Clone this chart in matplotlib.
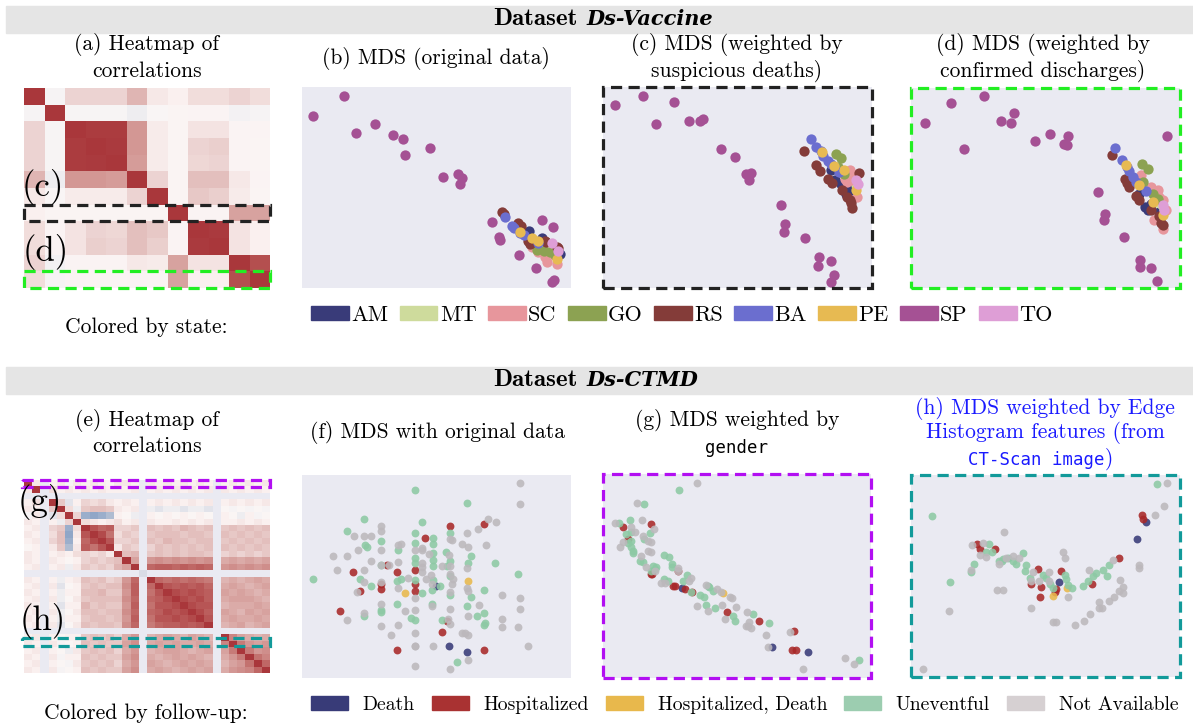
import numpy as np
import matplotlib
matplotlib.use("Agg")
import matplotlib.pyplot as plt
import seaborn as sns
from matplotlib.patches import Patch, Rectangle

W, H = 1193, 727
BG = "#eaeaf2"
SERIF = "cmr10"
MONO = "DejaVu Sans Mono"

# ---------------- data: Ds-Vaccine ----------------
states = ["AM", "MT", "SC", "GO", "RS", "BA", "PE", "SP", "TO"]
state_colors = ["#393b79", "#cedb9c", "#e7969c", "#8ca252", "#843c39",
                "#6b6ecf", "#e7ba52", "#a55194", "#de9ed6"]

corr_vaccine = [
    [1.0, -0.05, 0.2, 0.2, 0.2, 0.35, 0.1, 0.05, 0.15, 0.15, 0.2, 0.15],
    [-0.05, 1.0, -0.04, -0.04, -0.04, -0.1, -0.03, 0.02, 0.03, 0.03, -0.07, -0.05],
    [0.2, -0.04, 1.0, 0.97, 0.97, 0.5, 0.08, 0.02, 0.12, 0.12, 0.03, 0.03],
    [0.2, -0.04, 0.97, 1.0, 0.98, 0.5, 0.08, 0.02, 0.2, 0.22, 0.03, 0.02],
    [0.2, -0.04, 0.97, 0.98, 1.0, 0.48, 0.08, 0.02, 0.18, 0.2, 0.03, 0.02],
    [0.35, -0.1, 0.5, 0.5, 0.48, 1.0, 0.2, 0.02, 0.3, 0.3, 0.1, 0.03],
    [0.1, -0.03, 0.08, 0.08, 0.08, 0.2, 1.0, 0.02, 0.25, 0.22, 0.08, 0.02],
    [0.05, 0.02, 0.02, 0.02, 0.02, 0.02, 0.02, 1.0, 0.03, 0.03, 0.45, 0.45],
    [0.15, 0.03, 0.12, 0.2, 0.18, 0.3, 0.25, 0.03, 1.0, 0.98, 0.12, 0.05],
    [0.15, 0.03, 0.12, 0.22, 0.2, 0.3, 0.22, 0.03, 0.98, 1.0, 0.12, 0.05],
    [0.2, -0.07, 0.03, 0.03, 0.03, 0.1, 0.08, 0.45, 0.12, 0.12, 1.0, 0.88],
    [0.15, -0.05, 0.03, 0.02, 0.02, 0.03, 0.02, 0.45, 0.05, 0.05, 0.88, 1.0],
]

# MDS coordinates (arbitrary units) per state, for panels b, c, d
mds_b = {
    "AM": [(692, 440), (730, 462), (728, 468), (765, 493), (785, 510)],
    "MT": [(745, 485), (770, 490), (730, 490)],
    "SC": [(700, 490), (740, 520), (745, 535), (775, 540), (760, 510), (720, 505)],
    "GO": [(715, 497), (738, 500), (770, 512), (755, 505)],
    "RS": [(610, 383), (616, 390), (660, 418), (668, 425), (690, 470), (695, 480),
           (740, 470), (742, 475), (780, 492), (775, 488)],
    "BA": [(620, 398), (640, 425), (648, 432), (665, 448), (678, 452), (718, 478)],
    "PE": [(665, 445), (700, 462), (775, 525), (720, 470)],
    "SP": [(138, 35), (46, 97), (231, 119), (175, 148), (285, 154), (316, 166),
           (320, 212), (396, 193), (433, 280), (478, 271), (490, 281), (484, 300),
           (582, 413), (602, 458), (604, 468), (732, 409), (764, 430), (663, 514),
           (713, 552), (762, 594), (768, 589)],
    "TO": [(760, 478), (778, 500)],
}
mds_c = {
    "AM": [(700, 260), (710, 290), (730, 300), (745, 330), (765, 320), (750, 310)],
    "MT": [(745, 275), (775, 305), (760, 270)],
    "SC": [(755, 258), (760, 290), (748, 295), (778, 340), (770, 280), (740, 285)],
    "GO": [(713, 210), (730, 222), (738, 270), (720, 250)],
    "RS": [(618, 200), (655, 245), (665, 262), (690, 285), (702, 298), (732, 320),
           (748, 340), (760, 358), (763, 373), (782, 268), (755, 350)],
    "BA": [(638, 166), (655, 190), (670, 200), (675, 215), (690, 230), (700, 240), (722, 264)],
    "PE": [(672, 205), (708, 248), (775, 318), (738, 260)],
    "SP": [(52, 63), (135, 35), (228, 53), (173, 120), (272, 110), (305, 112),
           (315, 105), (369, 196), (410, 220), (445, 272), (458, 268), (452, 290),
           (550, 365), (562, 422), (558, 446), (620, 464), (662, 521), (700, 534),
           (660, 550), (708, 576), (698, 597)],
    "TO": [(775, 290), (780, 300)],
}
mds_d = {
    "AM": [(700, 330), (718, 370), (735, 360), (760, 385), (725, 380)],
    "MT": [(750, 355), (775, 375), (765, 360)],
    "SC": [(705, 275), (735, 310), (755, 320), (770, 350), (745, 410), (770, 435),
           (760, 340), (780, 380)],
    "GO": [(707, 242), (727, 257), (710, 295), (740, 330), (755, 345)],
    "RS": [(617, 215), (657, 285), (663, 298), (670, 310), (690, 337), (700, 350),
           (735, 378), (765, 418), (770, 425), (760, 398)],
    "BA": [(626, 194), (647, 230), (663, 250), (668, 262), (680, 280), (690, 295), (720, 323)],
    "PE": [(660, 245), (700, 305), (772, 395), (740, 355)],
    "SP": [(56, 119), (136, 60), (234, 39), (175, 196), (284, 114), (315, 118),
           (323, 89), (388, 173), (433, 153), (485, 157), (475, 182), (482, 183),
           (782, 159), (577, 326), (596, 391), (595, 409), (654, 460), (701, 527),
           (702, 549), (736, 553), (752, 591)],
    "TO": [(770, 365), (775, 380)],
}

# ---------------- data: Ds-CTMD ----------------
outcomes = ["Death", "Hospitalized", "Hospitalized, Death", "Uneventful", "Not Available"]
outcome_colors = ["#383b78", "#a93232", "#e8b84c", "#9ccdb0", "#d6d0d2"]
point_colors = ["#383b78", "#a82828", "#e8b84c", "#8dc9a4", "#bcb8bc"]

N = None
corr_ctmd_lower = [
    [1.0],
    [0.1, 1.0],
    [N, N, N],
    [0.05, 0.15, N, 1.0],
    [0.1, 0.05, N, 0.25, 1.0],
    [-0.05, 0.1, N, -0.15, 0.15, 1.0],
    [0.1, 0.05, N, 0.05, -0.1, 0.2, 1.0],
    [0.05, 0.1, N, 0.2, 0.25, -0.5, 0.15, 1.0],
    [0.1, 0.05, N, 0.15, 0.3, -0.55, 0.1, 0.85, 1.0],
    [0.05, 0.1, N, 0.2, 0.3, -0.5, 0.05, 0.75, 0.9, 1.0],
    [0.0, 0.05, N, 0.1, 0.25, -0.4, 0.1, 0.8, 0.7, 0.85, 1.0],
    [0.1, 0.05, N, 0.05, 0.1, 0.05, 0.15, 0.2, 0.15, 0.2, 0.1, 1.0],
    [0.1, 0.05, N, 0.1, 0.05, 0.0, 0.05, 0.2, 0.25, 0.2, 0.25, 0.3, 1.0],
    [0.05, 0.1, N, 0.05, 0.1, -0.1, 0.1, 0.25, 0.2, 0.25, 0.2, 0.35, 0.45, 1.0],
    [N, N, N, N, N, N, N, N, N, N, N, N, N, N, -0.2],
    [0.1, 0.05, N, 0.05, -0.1, 0.05, 0.1, 0.3, 0.25, 0.3, 0.2, 0.25, 0.5, 0.75, N, 1.0],
    [0.05, 0.1, N, 0.1, -0.15, 0.0, 0.05, 0.25, 0.3, 0.25, 0.3, 0.3, 0.55, 0.8, N, 0.75, 1.0],
    [0.1, 0.05, N, 0.05, -0.1, 0.05, 0.05, 0.3, 0.3, 0.35, 0.25, 0.25, 0.5, 0.8, N, 0.7, 0.85, 1.0],
    [0.05, 0.1, N, 0.1, -0.1, 0.0, 0.1, 0.25, 0.3, 0.3, 0.3, 0.3, 0.55, 0.75, N, 0.75, 0.8, 0.9, 1.0],
    [0.1, 0.05, N, 0.05, -0.15, 0.05, 0.05, 0.35, 0.25, 0.3, 0.25, 0.25, 0.5, 0.8, N, 0.7, 0.85, 0.85, 0.9, 1.0],
    [0.05, 0.1, N, 0.1, -0.1, 0.0, 0.1, 0.3, 0.3, 0.25, 0.3, 0.3, 0.55, 0.75, N, 0.75, 0.8, 0.9, 0.85, 0.9, 1.0],
    [0.1, 0.05, N, 0.05, -0.1, 0.05, 0.05, 0.25, 0.3, 0.3, 0.25, 0.3, 0.5, 0.8, N, 0.7, 0.85, 0.85, 0.9, 0.85, 0.9, 1.0],
    [0.05, 0.1, N, 0.1, -0.15, 0.0, 0.1, 0.3, 0.25, 0.3, 0.3, 0.25, 0.55, 0.75, N, 0.65, 0.75, 0.8, 0.8, 0.85, 0.8, 0.85, 1.0],
    [N] * 24,
    [0.05, 0.1, N, 0.05, 0.0, 0.05, 0.05, 0.25, 0.3, 0.25, 0.3, 0.2, 0.4, 0.5, N, 0.35, 0.4, 0.45, 0.4, 0.35, 0.45, 0.4, 0.35, N, 1.0],
    [0.1, 0.05, N, 0.1, -0.05, 0.0, 0.05, 0.3, 0.25, 0.3, 0.25, 0.25, 0.45, 0.55, N, 0.4, 0.45, 0.4, 0.45, 0.4, 0.4, 0.45, 0.4, N, 0.6, 1.0],
    [0.05, 0.1, N, 0.05, 0.0, -0.1, 0.1, 0.25, 0.3, 0.25, 0.3, 0.2, 0.4, 0.5, N, 0.35, 0.4, 0.45, 0.45, 0.4, 0.35, 0.4, 0.45, N, 0.45, 0.65, 1.0],
    [0.1, 0.05, N, 0.1, -0.05, 0.05, 0.05, 0.3, 0.25, 0.3, 0.25, 0.25, 0.45, 0.55, N, 0.4, 0.35, 0.4, 0.45, 0.4, 0.45, 0.4, 0.35, N, 0.4, 0.5, 0.65, 1.0],
    [0.05, 0.1, N, 0.05, 0.0, -0.05, 0.1, 0.25, 0.3, 0.25, 0.3, 0.2, 0.4, 0.5, N, 0.45, 0.4, 0.35, 0.4, 0.45, 0.4, 0.45, 0.4, N, 0.35, 0.45, 0.5, 0.7, 1.0],
    [0.1, 0.05, N, 0.1, -0.05, 0.0, 0.05, 0.3, 0.25, 0.3, 0.25, 0.25, 0.45, 0.55, N, 0.4, 0.45, 0.4, 0.35, 0.4, 0.45, 0.4, 0.45, N, 0.4, 0.5, 0.55, 0.6, 0.75, 1.0],
]

mds_f = {
    "Uneventful": [(352, 50), (506, 91), (198, 139), (371, 147), (146, 174), (454, 180),
                   (350, 180), (404, 195), (250, 203), (200, 217), (208, 222), (350, 210),
                   (300, 230), (404, 212), (404, 240), (443, 237), (518, 248), (350, 255),
                   (404, 262), (456, 263), (508, 270), (589, 270), (248, 276), (352, 270),
                   (404, 280), (446, 278), (659, 303), (46, 318), (186, 318), (310, 318),
                   (298, 325), (350, 320), (404, 320), (454, 310), (218, 340), (402, 350),
                   (424, 340), (372, 360), (454, 366), (558, 352), (517, 373), (298, 394),
                   (402, 394), (506, 400), (198, 428), (248, 418), (250, 410), (340, 435),
                   (352, 440), (432, 441), (536, 428), (558, 420), (556, 456), (560, 450),
                   (475, 566)],
    "Not Available": [(664, 31), (664, 93), (568, 139), (593, 147), (538, 167), (506, 181),
                      (564, 215), (250, 160), (250, 175), (168, 188), (198, 188), (218, 188),
                      (180, 230), (250, 230), (300, 216), (310, 214), (350, 232), (372, 232),
                      (372, 224), (394, 244), (460, 200), (456, 198), (490, 214), (508, 222),
                      (452, 246), (106, 250), (146, 250), (218, 264), (250, 276), (272, 276),
                      (300, 268), (372, 270), (372, 282), (372, 298), (400, 305), (432, 278),
                      (456, 278), (506, 285), (118, 292), (198, 290), (198, 326), (248, 326),
                      (330, 316), (384, 318), (402, 332), (454, 304), (460, 332), (464, 318),
                      (300, 346), (350, 374), (456, 358), (506, 345), (510, 353), (610, 366),
                      (664, 374), (250, 394), (322, 414), (350, 412), (402, 400), (454, 408),
                      (542, 395), (610, 437), (664, 409), (146, 441), (198, 420), (248, 459),
                      (300, 456), (352, 480), (280, 486), (448, 437), (456, 452), (510, 430),
                      (612, 463), (660, 462), (490, 479), (500, 480), (510, 487), (350, 518),
                      (352, 520), (404, 520), (690, 518), (508, 562), (350, 579), (456, 588),
                      (178, 358)],
    "Hospitalized": [(455, 158), (558, 153), (382, 195), (268, 277), (166, 298), (298, 298),
                     (352, 291), (350, 332), (248, 332), (248, 347), (186, 354), (350, 354),
                     (126, 414), (446, 443), (432, 478), (298, 530), (556, 531)],
    "Death": [(413, 339), (453, 518), (506, 538)],
    "Hospitalized, Death": [(508, 325), (320, 360)],
}
mds_g = {
    "Uneventful": [(244, 57), (139, 99), (95, 148), (62, 157), (157, 188), (85, 190),
                   (100, 185), (138, 204), (90, 218), (105, 240), (98, 230), (105, 248),
                   (125, 270), (135, 275), (198, 252), (212, 258), (222, 280), (222, 290),
                   (165, 285), (170, 295), (198, 325), (210, 330), (268, 313), (255, 330),
                   (305, 372), (318, 380), (332, 350), (345, 360), (325, 404), (352, 412),
                   (405, 435), (412, 452), (466, 430), (515, 457), (785, 567), (278, 364),
                   (100, 210), (160, 300), (175, 290), (330, 345)],
    "Not Available": [(297, 37), (117, 98), (133, 148), (50, 157), (100, 170), (112, 185),
                      (168, 175), (75, 215), (65, 228), (135, 195), (150, 210), (160, 215),
                      (150, 240), (160, 245), (128, 255), (145, 290), (190, 338), (200, 338),
                      (240, 292), (272, 330), (278, 323), (325, 342), (357, 355), (368, 365),
                      (395, 378), (402, 382), (297, 407), (330, 420), (372, 404), (415, 410),
                      (380, 446), (448, 424), (452, 467), (460, 472), (445, 465), (505, 493),
                      (578, 485), (512, 528), (742, 563), (770, 581), (616, 595), (455, 455),
                      (240, 300), (172, 300)],
    "Hospitalized": [(74, 170), (158, 160), (90, 205), (158, 310), (162, 310), (240, 300),
                     (225, 345), (232, 345), (262, 355), (283, 363), (388, 425), (485, 451),
                     (588, 482), (583, 539), (595, 539)],
    "Death": [(252, 351), (522, 528), (632, 544)],
    "Hospitalized, Death": [(376, 368)],
}
mds_h = {
    "Uneventful": [(752, 40), (78, 135), (131, 333), (204, 280), (196, 302), (240, 243),
                   (250, 218), (278, 270), (290, 265), (305, 262), (320, 270), (330, 280),
                   (350, 245), (360, 283), (358, 300), (372, 322), (410, 312), (420, 322),
                   (432, 340), (440, 350), (478, 312), (480, 325), (486, 342), (498, 350),
                   (530, 345), (545, 330), (560, 315), (570, 305), (592, 296), (602, 316),
                   (610, 282), (258, 243), (288, 270)],
    "Not Available": [(783, 37), (773, 104), (748, 131), (293, 183), (199, 221), (232, 215),
                      (222, 252), (240, 258), (278, 280), (300, 262), (320, 255), (340, 262),
                      (470, 242), (478, 262), (196, 298), (380, 302), (400, 330), (430, 302),
                      (430, 330), (550, 298), (620, 267), (698, 282), (698, 290), (642, 327),
                      (652, 348), (652, 367), (624, 377), (610, 390), (578, 393), (578, 412),
                      (588, 412), (552, 430), (534, 449), (506, 461), (440, 452), (450, 454),
                      (374, 411), (272, 356), (292, 356), (129, 420), (50, 594), (485, 378),
                      (376, 330), (640, 360)],
    "Hospitalized": [(212, 218), (222, 233), (268, 235), (708, 133), (710, 145), (395, 295),
                     (376, 340), (404, 348), (403, 379), (466, 301), (450, 355), (448, 364),
                     (558, 340), (639, 262)],
    "Death": [(719, 152), (692, 204), (458, 334)],
    "Hospitalized, Death": [(440, 375), (484, 350)],
}


# ---------------- helpers ----------------
def box(x0, y0, x1, y1):
    return [x0 / W, 1 - y1 / H, (x1 - x0) / W, (y1 - y0) / H]


def ftext(x, y, s, **kw):
    kw.setdefault("fontfamily", SERIF)
    kw.setdefault("fontsize", 15.5)
    kw.setdefault("ha", "center")
    kw.setdefault("va", "center")
    fig.text(x / W, 1 - y / H, s, **kw)


def dashed_frame(ax, color):
    ax.add_patch(Rectangle((0, 0), 1, 1, transform=ax.transAxes, fill=False,
                           edgecolor=color, lw=2.3, ls=(0, (3.5, 2)), clip_on=False, zorder=5))


def mds_panel(rect, data, names, colors, lims, size, alpha, frame=None):
    ax = fig.add_axes(box(*rect))
    ax.set_facecolor(BG)
    for name, c in zip(names, colors):
        pts = np.array(data.get(name, []), dtype=float).reshape(-1, 2)
        if len(pts):
            ax.scatter(pts[:, 0], pts[:, 1], s=size, color=c, alpha=alpha, lw=0)
    ax.set_xlim(lims[0], lims[1])
    ax.set_ylim(lims[3], lims[2])
    ax.set_xticks([])
    ax.set_yticks([])
    for sp in ax.spines.values():
        sp.set_visible(False)
    if frame:
        dashed_frame(ax, frame)
    return ax


def heatmap_panel(rect, mat):
    ax = fig.add_axes(box(*rect))
    ax.set_facecolor(BG)
    sns.heatmap(mat, cmap="vlag", vmin=-1, vmax=1, cbar=False,
                xticklabels=False, yticklabels=False, ax=ax)
    for sp in ax.spines.values():
        sp.set_visible(False)
    return ax


fig = plt.figure(figsize=(W / 100, H / 100), dpi=100)

# ---------------- banners ----------------
for y0 in (6, 367):
    fig.patches.append(Rectangle((6 / W, 1 - (y0 + 27) / H), 1 - 6 / W, 27 / H,
                                 transform=fig.transFigure, color="#e5e5e5", zorder=0))
ftext(578, 19, "Dataset", fontfamily="cmb10", fontsize=18, ha="right")
ftext(586, 19, "Ds-Vaccine", fontfamily="DejaVu Serif", fontsize=15, ha="left",
      fontweight="bold", fontstyle="italic")
ftext(578, 380, "Dataset", fontfamily="cmb10", fontsize=18, ha="right")
ftext(586, 380, "Ds-CTMD", fontfamily="DejaVu Serif", fontsize=15, ha="left",
      fontweight="bold", fontstyle="italic")

# ---------------- top row ----------------
ax_a = heatmap_panel((24, 88, 270, 288), np.array(corr_vaccine))
ax_a.add_patch(Rectangle((0, 7), 12, 1, fill=False, edgecolor="#222222", lw=2.3,
                         ls=(0, (3.5, 2)), clip_on=False))
ax_a.add_patch(Rectangle((0, 11), 12, 1, fill=False, edgecolor="#22ee22", lw=2.3,
                         ls=(0, (3.5, 2)), clip_on=False))
ftext(43, 187, "(c)", fontsize=25)
ftext(46, 252, "(d)", fontsize=25)

ftext(147, 45, "(a) Heatmap of")
ftext(147, 71, "correlations")
ftext(436, 58, "(b) MDS (original data)")
ftext(737, 45, "(c) MDS (weighted by")
ftext(737, 71, "suspicious deaths)")
ftext(1043, 45, "(d) MDS (weighted by")
ftext(1043, 71, "confirmed discharges)")

mds_panel((302, 87, 571, 288), mds_b, states, state_colors, (12, 818, 9, 612), 55, 1.0)
mds_panel((603, 87, 872, 288), mds_c, states, state_colors, (15, 822, 8, 615), 55, 1.0,
          frame="#222222")
mds_panel((911, 88, 1180, 288), mds_d, states, state_colors, (15, 822, 14, 612), 55, 1.0,
          frame="#22ee22")

ftext(146, 327, "Colored by state:")
fig.legend([Patch(color=c) for c in state_colors], states, loc="center left",
           bbox_to_anchor=(311 / W, 1 - 315 / H), ncol=9, frameon=False,
           prop={"family": SERIF, "size": 16}, handlelength=1.7, handleheight=0.6,
           handletextpad=0.1, columnspacing=0.52, borderaxespad=0, borderpad=0)

# ---------------- bottom row ----------------
full = np.full((30, 30), np.nan)
for i, row in enumerate(corr_ctmd_lower):
    for j, v in enumerate(row):
        if v is not None:
            full[i, j] = v
            full[j, i] = v
ax_e = heatmap_panel((24, 480, 270, 673), full)
ax_e.add_patch(Rectangle((-0.2, 0), 30.2, 1.15, fill=False, edgecolor="#b20ff2", lw=2.3,
                         ls=(0, (3.5, 2)), clip_on=False))
ax_e.add_patch(Rectangle((-0.2, 24.6), 30.2, 1.15, fill=False, edgecolor="#129a9a", lw=2.3,
                         ls=(0, (3.5, 2)), clip_on=False))
ftext(40, 502, "(g)", fontsize=25)
ftext(43, 621, "(h)", fontsize=25)

ftext(147, 420, "(e) Heatmap of")
ftext(147, 446, "correlations")
ftext(437, 432, "(f) MDS with original data")
ftext(737, 420, "(g) MDS weighted by")
ftext(737, 448, "gender", fontfamily=MONO, fontsize=12.5)
blue = "#1a1aff"
ftext(1045, 408, "(h) MDS weighted by Edge", color=blue)
ftext(1045, 433, "Histogram features (from", color=blue)
ftext(1105, 460, "CT-Scan image", fontfamily=MONO, fontsize=12.5, color=blue, ha="right")
ftext(1105, 459, ")", color=blue, ha="left")

mds_panel((302, 475, 571, 678), mds_f, outcomes, point_colors,
          (12, 818, 6, 615), 32, 0.88)
mds_panel((603, 474, 871, 678), mds_g, outcomes, point_colors,
          (15, 820, 10, 622), 32, 0.88, frame="#b20ff2")
mds_panel((911, 475, 1180, 677), mds_h, outcomes, point_colors,
          (15, 822, 12, 618), 32, 0.88, frame="#129a9a")

ftext(146, 713, "Colored by follow-up:")
fig.legend([Patch(color=c) for c in outcome_colors], outcomes, loc="center left",
           bbox_to_anchor=(311 / W, 1 - 705 / H), ncol=5, frameon=False,
           prop={"family": SERIF, "size": 14.2}, handlelength=1.88, handleheight=0.65,
           handletextpad=0.75, columnspacing=0.85, borderaxespad=0, borderpad=0)

fig.savefig("out.png", dpi=100)
